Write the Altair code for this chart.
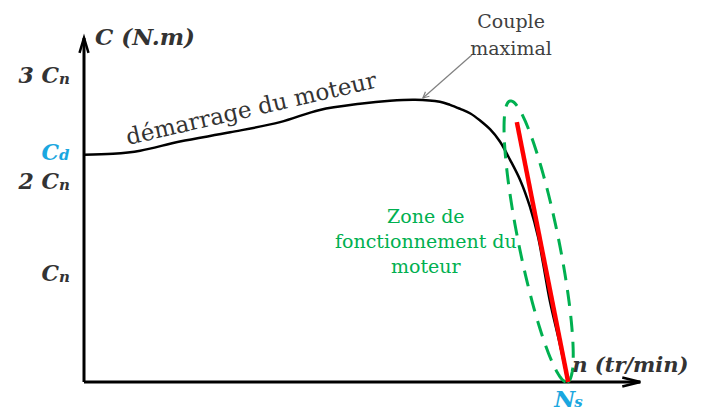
import altair as alt
import numpy as np
import pandas as pd

# ---- data (n in units of Ns, C in units of Cn) ----
n_curve = [0.0, 0.060, 0.116, 0.198, 0.302, 0.405, 0.487, 0.570, 0.632, 0.684, 0.735,
           0.756, 0.777, 0.798, 0.818, 0.839, 0.859, 0.880, 0.901, 0.921, 0.938, 0.948,
           0.962, 0.981, 1.0]
c_curve = [2.23, 2.24, 2.27, 2.36, 2.45, 2.55, 2.67, 2.73, 2.76, 2.77, 2.75,
           2.72, 2.68, 2.635, 2.566, 2.478, 2.36, 2.18, 1.98, 1.72, 1.42, 1.17,
           0.80, 0.41, 0.0]

# linear operating segment (red)
n_lin = [0.894, 1.0]
c_lin = [2.55, 0.0]

# operating zone: tilted ellipse (centre, conjugate half-axes in data units)
ell_center = (0.939, 1.379)
ell_u = (0.0589, -1.379)
ell_v = (0.0405, 0.039)

# axis ends
n_axis_end = 1.149
c_axis_end = 3.376

# y labels
ylab_text = ["3 C", "2 C", "C"]
ylab_sub = ["n", "n", "n"]
ylab_val = [3.0, 1.96, 1.06]
cd_val = 2.25

# annotation "Couple maximal"
cm_text_pos = (0.882, 3.47)
cm_line = ([0.801, 0.700], [3.209, 2.787])

# green zone label
zone_pos = (0.706, 1.56)
zone_lines = ["Zone de", "fonctionnement du", "moteur"]

# curve label
curve_label_pos = (0.091, 2.326)

# ---- scales ----
xs = alt.Scale(domain=[0, 1.2], nice=False, zero=False)
ys = alt.Scale(domain=[0, 3.67], nice=False, zero=False)


def X(f="x"):
    return alt.X(f"{f}:Q", scale=xs, axis=None)


def Y(f="y"):
    return alt.Y(f"{f}:Q", scale=ys, axis=None)


SERIF = "DejaVu Serif"
GREEN = "#00b050"
BLUE = "#1aa7e0"
DARK = "#333333"

# axes
axes_df = pd.DataFrame({"x": [0, 0], "y": [0, 0], "x2": [0, n_axis_end], "y2": [c_axis_end, 0]})
axes = alt.Chart(axes_df).mark_rule(color="black", strokeWidth=3).encode(
    x=X(), y=Y(), x2="x2:Q", y2="y2:Q")

y_arrow = alt.Chart(pd.DataFrame({"x": [0], "y": [c_axis_end]})).mark_point(
    shape="M-1,-0.3L0,0L-1,0.3", filled=False, size=900, strokeWidth=2.5, color="black",
    opacity=1, angle=270).encode(x=X(), y=Y())
x_arrow = alt.Chart(pd.DataFrame({"x": [n_axis_end], "y": [0]})).mark_point(
    shape="M-1,-0.25L0,0L-1,0.25", filled=False, size=1300, strokeWidth=2.5, color="black",
    opacity=1, angle=0).encode(x=X(), y=Y())

# torque curve
curve_df = pd.DataFrame({"x": n_curve, "y": c_curve})
curve = alt.Chart(curve_df).mark_line(color="black", strokeWidth=2.5, interpolate="catmull-rom").encode(
    x=X(), y=Y())

# ellipse outline
t = np.linspace(0, 2 * np.pi, 121)
ell_df = pd.DataFrame({
    "x": ell_center[0] + np.cos(t) * ell_u[0] + np.sin(t) * ell_v[0],
    "y": ell_center[1] + np.cos(t) * ell_u[1] + np.sin(t) * ell_v[1],
    "t": t,
})
ellipse = alt.Chart(ell_df).mark_line(color=GREEN, strokeWidth=3, strokeDash=[16, 10]).encode(
    x=X(), y=Y(), order="t:Q")

# red linear segment
red = alt.Chart(pd.DataFrame({"x": n_lin, "y": c_lin})).mark_line(
    color="#ff0000", strokeWidth=4.5).encode(x=X(), y=Y())

# y labels
ylab_df = pd.DataFrame({"x": [0] * 3, "y": ylab_val, "t": ylab_text, "s": ylab_sub})
ylab = alt.Chart(ylab_df).mark_text(
    font=SERIF, fontSize=22, fontWeight="bold", fontStyle="italic", color=DARK,
    align="right", baseline="middle", dx=-25).encode(x=X(), y=Y(), text="t:N")
ylab_s = alt.Chart(ylab_df).mark_text(
    font=SERIF, fontSize=15, fontWeight="bold", fontStyle="italic", color=DARK,
    align="left", baseline="middle", dx=-25, dy=3).encode(x=X(), y=Y(), text="s:N")

cd_df = pd.DataFrame({"x": [0], "y": [cd_val], "t": ["C"], "s": ["d"]})
cd = alt.Chart(cd_df).mark_text(
    font=SERIF, fontSize=22, fontWeight="bold", fontStyle="italic", color=BLUE,
    align="right", baseline="middle", dx=-25).encode(x=X(), y=Y(), text="t:N")
cd_s = alt.Chart(cd_df).mark_text(
    font=SERIF, fontSize=15, fontWeight="bold", fontStyle="italic", color=BLUE,
    align="left", baseline="middle", dx=-25, dy=2).encode(x=X(), y=Y(), text="s:N")

# axis titles
ytitle = alt.Chart(pd.DataFrame({"x": [0], "y": [c_axis_end], "t": ["C (N.m)"]})).mark_text(
    font=SERIF, fontSize=23, fontWeight="bold", fontStyle="italic", color=DARK,
    align="left", baseline="alphabetic", dx=11, dy=7).encode(x=X(), y=Y(), text="t:N")
xtitle = alt.Chart(pd.DataFrame({"x": [1.0], "y": [0], "t": ["n (tr/min)"]})).mark_text(
    font=SERIF, fontSize=21, fontWeight="bold", fontStyle="italic", color=DARK,
    align="left", baseline="alphabetic", dx=4, dy=-10).encode(x=X(), y=Y(), text="t:N")
ns = alt.Chart(pd.DataFrame({"x": [1.0], "y": [0], "t": ["N"], "s": ["s"]}))
ns_main = ns.mark_text(
    font=SERIF, fontSize=23, fontWeight="bold", fontStyle="italic", color=BLUE,
    align="right", baseline="alphabetic", dx=7, dy=25).encode(x=X(), y=Y(), text="t:N")
ns_sub = ns.mark_text(
    font=SERIF, fontSize=15, fontWeight="bold", fontStyle="italic", color=BLUE,
    align="left", baseline="alphabetic", dx=6, dy=25).encode(x=X(), y=Y(), text="s:N")

# curve label
curve_lbl = alt.Chart(pd.DataFrame({"x": [curve_label_pos[0]], "y": [curve_label_pos[1]],
                                    "t": ["démarrage du moteur"]})).mark_text(
    font=SERIF, fontSize=23, color=DARK, align="left", baseline="alphabetic",
    angle=347).encode(x=X(), y=Y(), text="t:N")

# Couple maximal annotation
cm_txt = alt.Chart(pd.DataFrame({"x": [cm_text_pos[0]], "y": [cm_text_pos[1]]})).mark_text(
    text=["Couple", "maximal"], font=SERIF, fontSize=19, color="#404040", align="center",
    baseline="alphabetic", lineHeight=27).encode(x=X(), y=Y())
cm_ln = alt.Chart(pd.DataFrame({"x": cm_line[0], "y": cm_line[1]})).mark_line(
    color="#808080", strokeWidth=1.2).encode(x=X(), y=Y())
cm_head = alt.Chart(pd.DataFrame({"x": [cm_line[0][1]], "y": [cm_line[1][1]]})).mark_point(
    shape="M-1,-0.5L0,0L-1,0.5", filled=False, size=144, strokeWidth=1.2, color="#808080",
    opacity=1, angle=138.7).encode(x=X(), y=Y())

# zone label
zone = alt.Chart(pd.DataFrame({"x": [zone_pos[0]], "y": [zone_pos[1]]})).mark_text(
    text=zone_lines, font=SERIF, fontSize=19, color=GREEN, align="center",
    baseline="alphabetic", lineHeight=25).encode(x=X(), y=Y())

chart = alt.layer(
    axes, y_arrow, x_arrow, curve, ellipse, red,
    ylab, ylab_s, cd, cd_s, ytitle, xtitle, ns_main, ns_sub,
    curve_lbl, cm_txt, cm_ln, cm_head, zone,
).properties(
    width=581, height=374,
    autosize=alt.AutoSizeParams(type="none"),
    padding={"left": 76, "top": 0, "right": 28, "bottom": 32},
).configure_view(stroke=None)

chart.save("out.html", embed_options={"renderer": "svg", "actions": False})
